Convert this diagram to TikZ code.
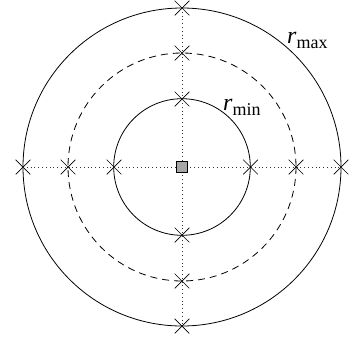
\documentclass[tikz,border=0pt]{standalone}
\usepackage{fontspec}
\setmainfont{Liberation Serif}
\usetikzlibrary{shapes.misc}
\begin{document}
\begin{tikzpicture}[x=1pt,y=-1pt,
  xmark/.style={cross out,draw,line width=0.7pt,minimum size=14pt,inner sep=0pt},
  circ/.style={line width=0.8pt},
  dcirc/.style={line width=0.8pt,dash pattern=on 7pt off 5pt},
  guide/.style={line width=0.9pt,dash pattern=on 0.8pt off 3pt,black!80},
  ctr/.style={draw,fill=black!35,line width=0.8pt,minimum size=10.5pt,inner sep=0pt},
  lab/.style={anchor=base west,inner sep=0pt}]
\useasboundingbox (0,0) rectangle (350,338);
% cross marks on horizontal axis
\node[xmark] (oL) at (23,167) {};
\node[xmark] (dL) at (68,167) {};
\node[xmark] (iL) at (114,167) {};
\node[xmark] (iR) at (250.5,167) {};
\node[xmark] (dR) at (296,167) {};
\node[xmark] (oR) at (341,167) {};
% cross marks on vertical axis
\node[xmark] (oT) at (182,8) {};
\node[xmark] (dT) at (182,53) {};
\node[xmark] (iT) at (182,99) {};
\node[xmark] (iB) at (182,235) {};
\node[xmark] (dB) at (182,281) {};
\node[xmark] (oB) at (182,326) {};
% guide lines
\draw[guide] (oL.center) -- (oR.center);
\draw[guide] (oT.center) -- (oB.center);
% circles
\draw[circ] (182,167) circle[radius=159];
\draw[dcirc] (182,167) circle[radius=114];
\draw[circ] (182,167) circle[radius=68.3];
% centre square
\node[ctr] (c) at (182,167) {};
% labels
\node[lab] (rmax) at (287,43.5) {{\fontsize{24}{24}\selectfont\itshape r}\raisebox{-5pt}{\fontsize{18}{18}\selectfont max}};
\node[lab] (rmin) at (223,110) {{\fontsize{24}{24}\selectfont\itshape r}\raisebox{-5pt}{\fontsize{18}{18}\selectfont min}};
\end{tikzpicture}
\end{document}
